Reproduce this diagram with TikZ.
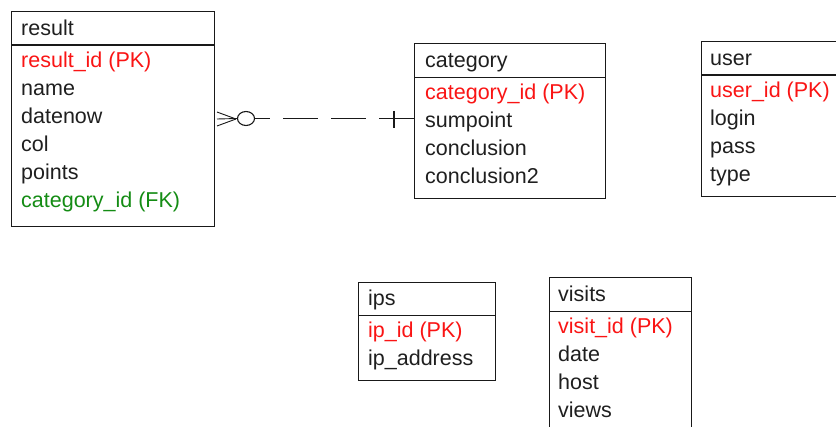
\documentclass[tikz,border=0pt]{standalone}
\usepackage{fontspec}
\setmainfont{Liberation Sans}
\usetikzlibrary{calc,shapes.geometric}
\definecolor{pk}{RGB}{250,20,20}
\definecolor{fk}{RGB}{20,140,20}
\definecolor{edge}{RGB}{25,25,25}
\begin{document}
\begin{tikzpicture}[x=1pt,y=-1pt,
  tbl/.style={draw=edge,line width=1.4pt,rectangle,inner sep=0pt,anchor=north west},
  hline/.style={draw=edge,line width=1.4pt},
  fld/.style={anchor=base west,inner sep=0pt,font=\fontsize{21.5}{24}\selectfont,text=black!88},
  pkf/.style={fld,text=pk},
  fkf/.style={fld,text=fk},
  conn/.style={draw=edge,line width=1.2pt},
  crow/.style={draw=edge,line width=0.9pt}]
\useasboundingbox (0,0) rectangle (836,427);
\fill[white] (0,0) rectangle (836,427);

% result
\node[tbl,minimum width=203pt,minimum height=215pt] (result) at (11,11) {};
\draw[hline] (11,45) -- (214,45);
\node[fld] (result-h) at (21,36) {result};
\node[pkf] (result-1) at (21,68) {result\_id (PK)};
\node[fld] (result-2) at (21,96) {name};
\node[fld] (result-3) at (21,124) {datenow};
\node[fld] (result-4) at (21,152) {col};
\node[fld] (result-5) at (21,180) {points};
\node[fkf] (result-6) at (21,208) {category\_id (FK)};

% category
\node[tbl,minimum width=191pt,minimum height=155pt] (category) at (414,43) {};
\draw[hline] (414,77.5) -- (605,77.5);
\node[fld] (category-h) at (425,68) {category};
\node[pkf] (category-1) at (425,100) {category\_id (PK)};
\node[fld] (category-2) at (425,128) {sumpoint};
\node[fld] (category-3) at (425,156) {conclusion};
\node[fld] (category-4) at (425,184) {conclusion2};

% user
\node[tbl,minimum width=145pt,minimum height=155pt] (user) at (701,41) {};
\draw[hline] (701,75) -- (846,75);
\node[fld] (user-h) at (710,66) {user};
\node[pkf] (user-1) at (710,98) {user\_id (PK)};
\node[fld] (user-2) at (710,126) {login};
\node[fld] (user-3) at (710,154) {pass};
\node[fld] (user-4) at (710,182) {type};

% ips
\node[tbl,minimum width=137pt,minimum height=98pt] (ips) at (358,282) {};
\draw[hline] (358,315.5) -- (495,315.5);
\node[fld] (ips-h) at (368,306) {ips};
\node[pkf] (ips-1) at (368,338) {ip\_id (PK)};
\node[fld] (ips-2) at (368,366) {ip\_address};

% visits
\node[tbl,minimum width=142pt,minimum height=170pt] (visits) at (549,277) {};
\draw[hline] (549,311.5) -- (691,311.5);
\node[fld] (visits-h) at (558,302) {visits};
\node[pkf] (visits-1) at (558,334) {visit\_id (PK)};
\node[fld] (visits-2) at (558,362) {date};
\node[fld] (visits-3) at (558,390) {host};
\node[fld] (visits-4) at (558,418) {views};

% relationship result (many, optional) -- category (one)
\coordinate (cf) at (217,119);
\coordinate (cfj) at (236,119);
\node[ellipse,draw=edge,line width=1.1pt,inner sep=0pt,minimum width=17pt,minimum height=14pt] (opt) at (246,118.5) {};
\draw[crow] ($(cf)+(0,-7)$) -- (cfj);
\draw[crow] ($(cf)+(0,7)$) -- (cfj);
\draw[crow] (cf) -- (opt.west);
\draw[conn,dash pattern=on 35pt off 13pt,dash phase=20pt] (opt.east) -- (opt.east -| category.west);
\coordinate (tick) at (394,119);
\draw[conn] ($(tick)+(0,-8)$) -- ($(tick)+(0,9)$);
\end{tikzpicture}
\end{document}
